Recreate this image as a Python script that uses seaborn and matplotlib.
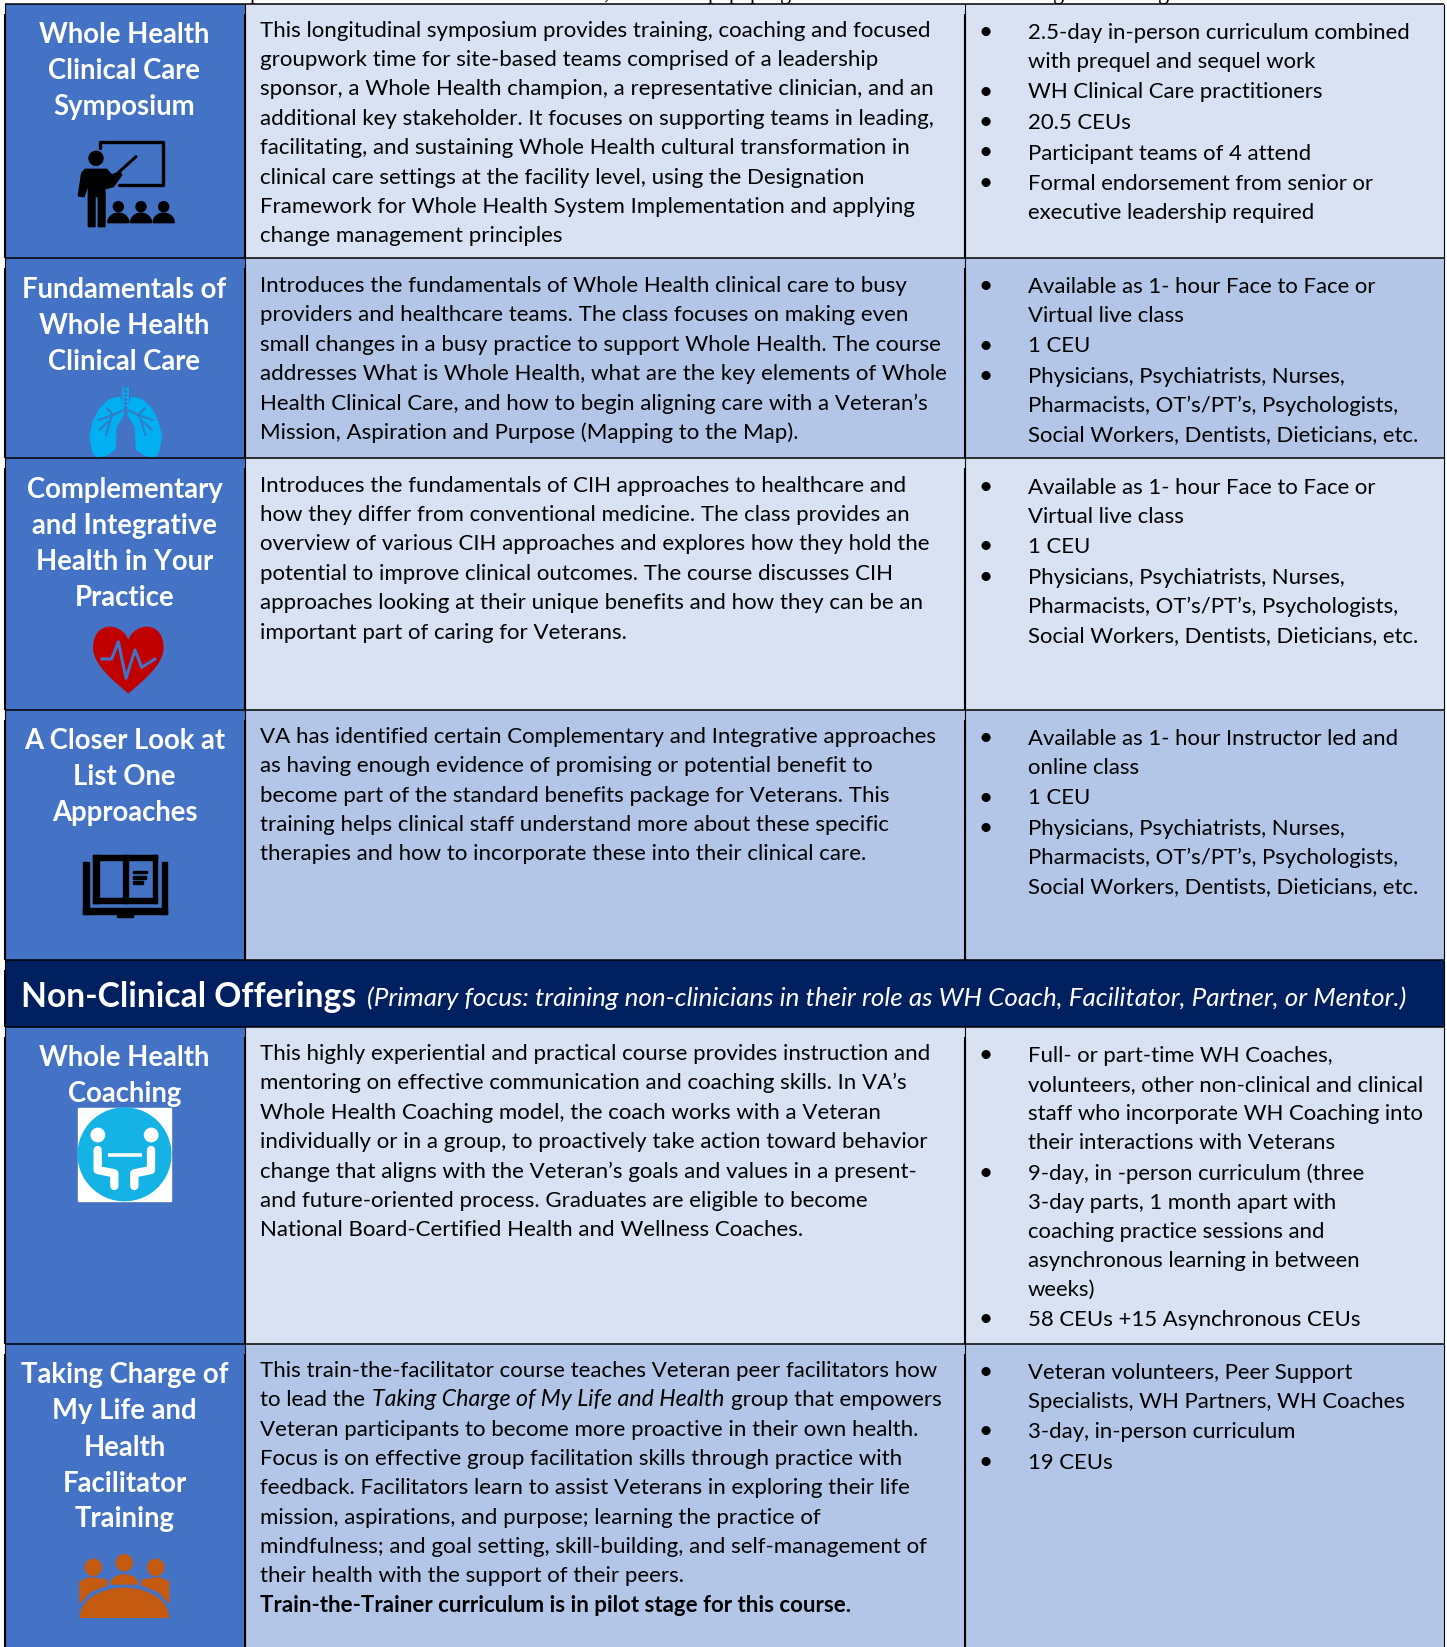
# %%
import numpy as np
import matplotlib
matplotlib.use('Agg')
import matplotlib.pyplot as plt
import seaborn as sns
from matplotlib.colors import ListedColormap
from matplotlib.font_manager import FontProperties
from matplotlib.patches import Circle, Polygon, Rectangle, PathPatch
from matplotlib.path import Path
from matplotlib.textpath import TextPath

# %%
# Table text
headers = [
    ['Whole Health', 'Clinical Care', 'Symposium'],
    ['Fundamentals of', 'Whole Health', 'Clinical Care'],
    ['Complementary', 'and Integrative', 'Health in Your', 'Practice'],
    ['A Closer Look at', 'List One', 'Approaches'],
    ['Whole Health', 'Coaching'],
    ['Taking Charge of', 'My Life and', 'Health', 'Facilitator', 'Training'],
]
descriptions = [
    ['This longitudinal symposium provides training, coaching and focused',
     'groupwork time for site-based teams comprised of a leadership',
     'sponsor, a Whole Health champion, a representative clinician, and an',
     'additional key stakeholder. It focuses on supporting teams in leading,',
     'facilitating, and sustaining Whole Health cultural transformation in',
     'clinical care settings at the facility level, using the Designation',
     'Framework for Whole Health System Implementation and applying',
     'change management principles'],
    ['Introduces the fundamentals of Whole Health clinical care to busy',
     'providers and healthcare teams. The class focuses on making even',
     'small changes in a busy practice to support Whole Health. The course',
     'addresses What is Whole Health, what are the key elements of Whole',
     'Health Clinical Care, and how to begin aligning care with a Veteran\u2019s',
     'Mission, Aspiration and Purpose (Mapping to the Map).'],
    ['Introduces the fundamentals of CIH approaches to healthcare and',
     'how they differ from conventional medicine. The class provides an',
     'overview of various CIH approaches and explores how they hold the',
     'potential to improve clinical outcomes. The course discusses CIH',
     'approaches looking at their unique benefits and how they can be an',
     'important part of caring for Veterans.'],
    ['VA has identified certain Complementary and Integrative approaches',
     'as having enough evidence of promising or potential benefit to',
     'become part of the standard benefits package for Veterans. This',
     'training helps clinical staff understand more about these specific',
     'therapies and how to incorporate these into their clinical care.'],
    ['This highly experiential and practical course provides instruction and',
     'mentoring on effective communication and coaching skills. In VA\u2019s',
     'Whole Health Coaching model, the coach works with a Veteran',
     'individually or in a group, to proactively take action toward behavior',
     'change that aligns with the Veteran\u2019s goals and values in a present-',
     'and future-oriented process. Graduates are eligible to become',
     'National Board-Certified Health and Wellness Coaches.'],
    ['This train-the-facilitator course teaches Veteran peer facilitators how',
     '',
     'Veteran participants to become more proactive in their own health.',
     'Focus is on effective group facilitation skills through practice with',
     'feedback. Facilitators learn to assist Veterans in exploring their life',
     'mission, aspirations, and purpose; learning the practice of',
     'mindfulness; and goal setting, skill-building, and self-management of',
     'their health with the support of their peers.'],
]
pilot_note = 'Train-the-Trainer curriculum is in pilot stage for this course.'
italic_line = ['to lead the', 'Taking Charge of My Life and Health', 'group that empowers']

staff_lines = ['Physicians, Psychiatrists, Nurses,',
               'Pharmacists, OT\u2019s/PT\u2019s, Psychologists,',
               'Social Workers, Dentists, Dieticians, etc.']
details = [
    [['2.5-day in-person curriculum combined', 'with prequel and sequel work'],
     ['WH Clinical Care practitioners'],
     ['20.5 CEUs'],
     ['Participant teams of 4 attend'],
     ['Formal endorsement from senior or', 'executive leadership required']],
    [['Available as 1- hour Face to Face or', 'Virtual live class'], ['1 CEU'], staff_lines],
    [['Available as 1- hour Face to Face or', 'Virtual live class'], ['1 CEU'], staff_lines],
    [['Available as 1- hour Instructor led and', 'online class'], ['1 CEU'], staff_lines],
    [['Full- or part-time WH Coaches,', 'volunteers, other non-clinical and clinical',
      'staff who incorporate WH Coaching into', 'their interactions with Veterans'],
     ['9-day, in -person curriculum (three', '3-day parts, 1 month apart with',
      'coaching practice sessions and', 'asynchronous learning in between', 'weeks)'],
     ['58 CEUs +15 Asynchronous CEUs']],
    [['Veteran volunteers, Peer Support', 'Specialists, WH Partners, WH Coaches'],
     ['3-day, in-person curriculum'],
     ['19 CEUs']],
]
banner_title = 'Non-Clinical Offerings'
banner_note = '(Primary focus: training non-clinicians in their role as WH Coach, Facilitator, Partner, or Mentor.)'

# %%
# Grid of the table, one heatmap cell per pixel
col_widths = [5, 240, 720, 479, 3]
row_heights = [4, 254, 200, 252, 250, 67, 317, 303]
col_edges = [5, 244.5, 965, 1444]
row_edges = [3.5, 258, 458, 709.5, 960, 1026.5, 1343.5]
row_fill = [1, 2, 1, 2, 4, 1, 2]      # 1 light, 2 medium, 4 banner

header_base = [43, 298, 498, 749, 1066, 1383.5]
body_base = [36.6, 292, 491.7, 742.7, 1060, 1376.7]
detail_base = [39, 293, 493.8, 745, 1062.3, 1378.8]

BLUE = '#4472C4'
palette = ['white', '#D9E2F3', '#B4C6E7', BLUE, '#002060']

codes = np.zeros((len(row_heights), len(col_widths)), dtype=int)
for i, fill in enumerate(row_fill):
    codes[i + 1, 1:4] = fill
    if fill != 4:
        codes[i + 1, 1] = 3
grid = np.repeat(np.repeat(codes, row_heights, axis=0), col_widths, axis=1)

# %%
sns.set_theme(style='white')
plt.rcParams['font.family'] = ['Lato', 'DejaVu Sans']


def fit(text, width, **kw):
    # font size (points) that makes a line as wide as in the original, dpi 100
    prop = FontProperties(family='Lato', **kw)
    w = TextPath((0, 0), text, size=10, prop=prop).get_extents().width
    return 10 * width / w * 0.72


body_size = fit(descriptions[0][0], 666)
detail_size = body_size * 0.995
head_size = fit('Fundamentals of', 203, weight='bold')
title_size = fit(banner_title, 331, weight='bold')
note_size = fit(banner_note, 1038, style='italic')

fig = plt.figure(figsize=(14.47, 16.47), dpi=100)
ax = fig.add_axes([0, 0, 1, 1])
sns.heatmap(grid, cmap=ListedColormap(palette), vmin=-0.5, vmax=4.5, cbar=False,
            xticklabels=False, yticklabels=False, ax=ax)

# %%
# Borders: thin horizontals, verticals get heavier a little below each rule
ax.hlines(row_edges, col_edges[0], col_edges[-1], color='black', lw=1.1)
for i, top in enumerate(row_edges):
    bottom = row_edges[i + 1] if i + 1 < len(row_edges) else 1647
    xs = [col_edges[0], col_edges[-1]] if row_fill[i] == 4 else col_edges
    ax.vlines(xs, top, bottom, color='black', lw=0.8)
    ax.vlines(xs[:-1], top + 10, bottom, color='black', lw=1.5)

# Tails of the line of text cut off above the table
for ch, x in zip(['p', ',', 'p', 'p', 'p', 'g', 'g', 'g'], [255, 606, 713, 734, 755, 786, 1059, 1164]):
    ax.text(x, -1, ch, family='Liberation Serif', fontsize=16, ha='center', va='baseline', color='black')

# %%
# Left column titles
for lines, y in zip(headers, header_base):
    for j, line in enumerate(lines):
        ax.text(124.5, y + j * 36, line, color='white', fontsize=head_size, weight='bold',
                ha='center', va='baseline')

# Middle column
for lines, y in zip(descriptions, body_base):
    for j, line in enumerate(lines):
        ax.text(260, y + j * 29.4, line, fontsize=body_size, color='black', va='baseline')

y_it = body_base[5] + 29.4
for part, x, st, k in zip(italic_line, [260, 371.5, 731], ['normal', 'italic', 'normal'], [1, 1.04, 1]):
    ax.text(x, y_it, part, fontsize=body_size * k, style=st, color='black', va='baseline')
ax.text(260, body_base[5] + 8 * 29.4, pilot_note, fontsize=body_size, weight='bold',
        color='black', va='baseline')

# Right column bullets
for bullets, y in zip(details, detail_base):
    for item in bullets:
        ax.text(986, y, '\u2022', fontsize=body_size * 1.1, color='black', ha='center', va='baseline')
        for line in item:
            ax.text(1028, y, line, fontsize=detail_size, color='black', va='baseline')
            y += 29
        y += 1.5

# Banner
ax.text(21, 1006.7, banner_title, color='white', fontsize=title_size, weight='bold', va='baseline')
ax.text(367, 1006.5, banner_note, color='white', fontsize=note_size, style='italic', va='baseline')


# %%
# Icons, drawn from points read off the zoomed crops (crop px / 3 + origin)
def pts(points, ox, oy):
    return [(px / 3 + ox, py / 3 + oy) for px, py in points]


def dome(cx, base, rx, ry, n=30):
    t = np.linspace(np.pi, 2 * np.pi, n)
    return np.column_stack([cx + rx * np.cos(t), base + ry * np.sin(t)])


# Teacher
ox, oy = 60, 130
ax.add_patch(Circle((96, 158.3), 7, color='black'))
ax.add_patch(Polygon(pts([(75, 118), (140, 118), (155, 135), (180, 125), (185, 135), (160, 170), (140, 175),
                          (135, 160), (135, 290), (115, 290), (115, 200), (105, 200), (105, 290), (85, 290),
                          (85, 160), (72, 200), (55, 198), (65, 130)], ox, oy), color='black'))
board = pts([(120, 55), (120, 35), (308, 35), (308, 165), (178, 165)], ox, oy)
ax.plot(*zip(*board), color='black', lw=2.4, solid_joinstyle='round')
ax.plot(*zip(*pts([(228, 80), (175, 128)], ox, oy)), color='black', lw=2.2)
for cx in [175, 243, 311]:
    ax.add_patch(Circle((cx / 3 + ox, 230 / 3 + oy), 5, color='black'))
    ax.add_patch(Polygon(dome(cx / 3 + ox, 278 / 3 + oy, 10.5, 9.5), color='black'))

# Lungs
ox, oy = 70, 380
lobe = [(150, 52), (120, 58), (90, 85), (70, 125), (60, 170), (68, 215), (80, 232), (110, 225), (135, 208),
        (138, 140), (160, 105), (158, 88)]
branch = [[(160, 90), (130, 105), (110, 85)], [(130, 105), (85, 120)], [(125, 108), (108, 165)],
          [(115, 125), (88, 150)]]
for sgn in [1, -1]:
    mirror = lambda p: [(167 + sgn * (px - 167), py) for px, py in p]
    ax.add_patch(Polygon(pts(mirror(lobe), ox, oy), color='#00B0F0'))
    for b in branch:
        ax.plot(*zip(*pts(mirror(b), ox, oy)), color='#2F7FC8', lw=1.6)
    ax.plot(*zip(*pts(mirror([(160, 20), (160, 90)]), ox, oy)), color='#00B0F0', lw=1.2)
for ry in range(28, 85, 12):
    ax.plot(*zip(*pts([(160, ry), (175, ry)], ox, oy)), color='#00B0F0', lw=0.9)

# Heart
cx = 128.3
verts = [(cx, 640), (122, 622), (93, 620), (93, 648), (93, 665), (115, 682), (cx, 693.5),
         (2 * cx - 115, 682), (2 * cx - 93, 665), (2 * cx - 93, 648), (2 * cx - 93, 620), (2 * cx - 122, 622),
         (cx, 640)]
ax.add_patch(PathPatch(Path(verts, [Path.MOVETO] + [Path.CURVE4] * 12), fc='#C00000', ec='none'))
ax.plot(*zip(*pts([(305, 597), (335, 597), (355, 545), (378, 655), (405, 570), (425, 622), (465, 597)], 0, 460)),
        color=BLUE, lw=2.2, solid_joinstyle='round')

# Book
ox, oy = 0, 460
for x0, y0, x1, y1 in [(250, 1205, 268, 1362), (250, 1345, 502, 1362), (485, 1205, 502, 1362),
                       (280, 1185, 472, 1200), (280, 1185, 296, 1330), (458, 1185, 472, 1330),
                       (280, 1315, 472, 1330), (370, 1185, 384, 1330), (352, 1362, 400, 1370),
                       (398, 1232, 440, 1240), (398, 1248, 438, 1256), (398, 1264, 428, 1272)]:
    ax.add_patch(Rectangle((x0 / 3, y0 / 3 + oy), (x1 - x0) / 3, (y1 - y0) / 3, color='black'))

# Coaching
ox, oy = 0, 950
ax.add_patch(Rectangle((78, 474 / 3 + oy), 93, 93, color='white'))
ax.add_patch(Circle((124.5, 613 / 3 + oy), 46.3, color='#15B2E5'))
for sgn in [1, -1]:
    ax.add_patch(Circle((124.5 + sgn * 80 / 3, 555 / 3 + oy), 6.7, color='white'))
    leg = [(373 + sgn * 80, 600), (373 + sgn * 80, 660), (373 + sgn * 30, 670), (373 + sgn * 30, 708)]
    ax.plot(*zip(*pts(leg, ox, oy)), color='white', lw=6, solid_capstyle='round', solid_joinstyle='round')
ax.plot(*zip(*pts([(325, 614), (425, 614)], ox, oy)), color='white', lw=2.6, solid_capstyle='butt')

# Team
ox, oy = 0, 1340
ORANGE = '#C55A11'
for hx, hy in [(280, 682), (373, 668), (467, 682)]:
    ax.add_patch(Circle((hx / 3 + ox, hy / 3 + oy), 8, color=ORANGE))
ax.add_patch(Polygon(dome(373 / 3, 832 / 3 + oy, 44, 29), color=ORANGE))
ax.add_patch(Polygon(dome(373 / 3, 732 / 3 + oy, 13.5, 9), color=ORANGE))
side = [(240, 725), (270, 713), (320, 720), (320, 735), (270, 755), (240, 788)]
for sgn in [1, -1]:
    ax.add_patch(Polygon(pts([(373 + sgn * (px - 373), py) for px, py in side], ox, oy), color=ORANGE))

ax.set_xlim(0, 1447)
ax.set_ylim(1647, 0)
fig.savefig('out.png', dpi=100)
